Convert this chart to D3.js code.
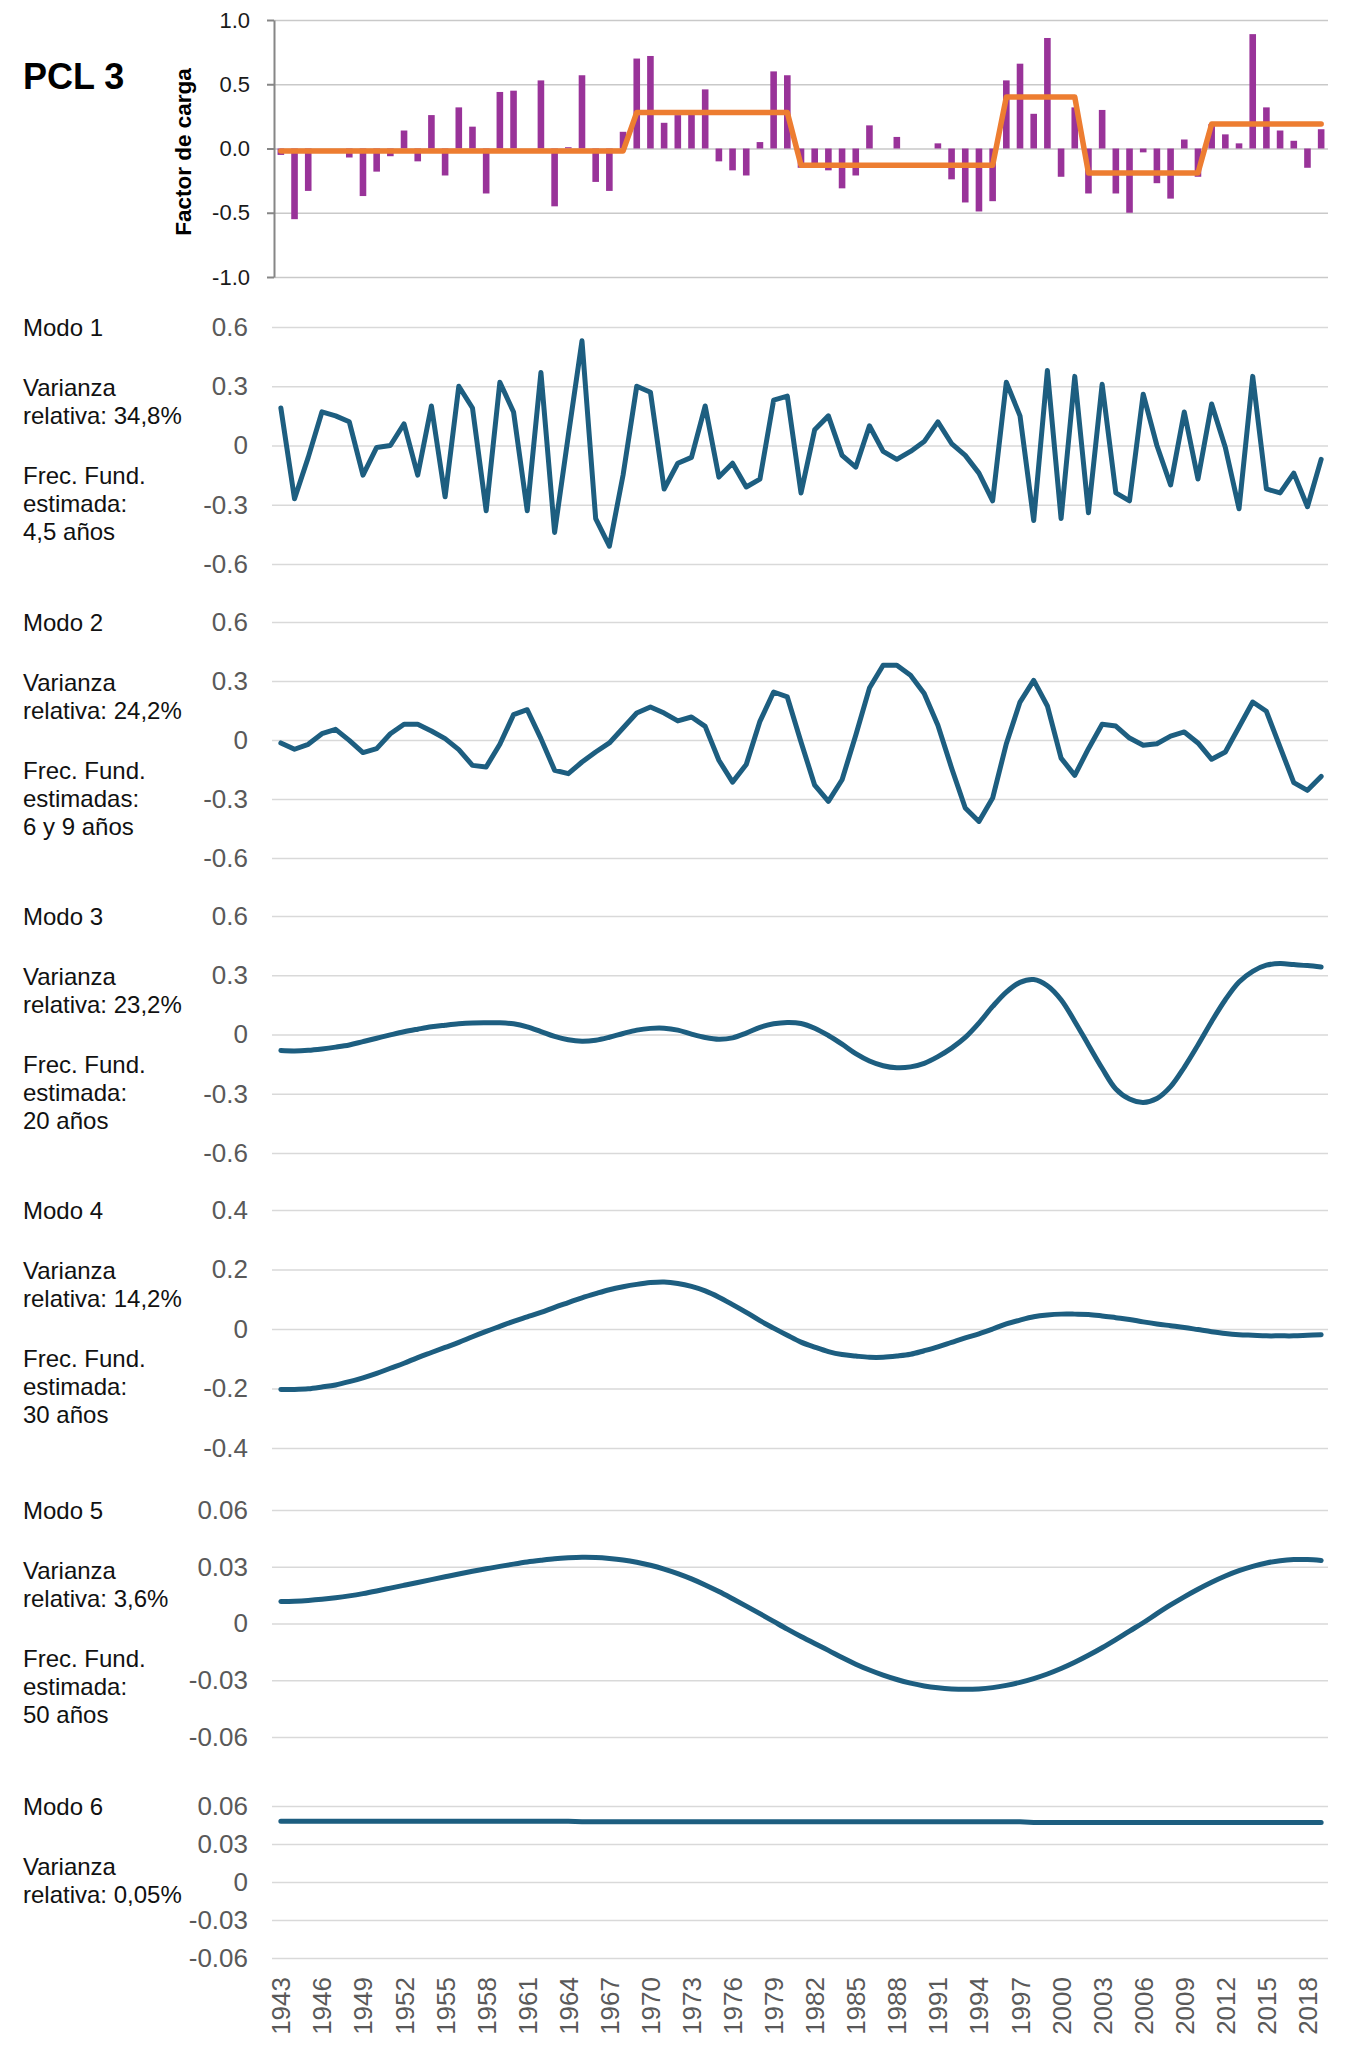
<!DOCTYPE html>
<html>
<head>
<meta charset="utf-8">
<script src="https://cdn.jsdelivr.net/npm/d3@7"></script>
<style>
  body { margin: 0; background: #ffffff; }
  text { font-family: "Liberation Sans", Arial, sans-serif; }
</style>
</head>
<body>
<svg id="chart" width="1361" height="2069"></svg>
<script>
// Years on the x axis (1943 - 2019)
var years = d3.range(1943, 2020);

// PCL 3 loading factor per year (purple bars)
var barValues = [
  -0.05, -0.55, -0.33, 0.00, 0.00, -0.07, -0.37, -0.18, -0.06, 0.14,
  -0.10, 0.26, -0.21, 0.32, 0.17, -0.35, 0.44, 0.45, 0.00, 0.53,
  -0.45, 0.01, 0.57, -0.26, -0.33, 0.13, 0.70, 0.72, 0.20, 0.26,
  0.28, 0.46, -0.10, -0.17, -0.21, 0.05, 0.60, 0.57, -0.15, -0.13,
  -0.17, -0.31, -0.21, 0.18, 0.00, 0.09, 0.00, 0.00, 0.04, -0.24,
  -0.42, -0.49, -0.41, 0.53, 0.66, 0.27, 0.86, -0.22, 0.32, -0.35,
  0.30, -0.35, -0.50, -0.03, -0.27, -0.39, 0.07, -0.22, 0.19, 0.11,
  0.04, 0.89, 0.32, 0.14, 0.06, -0.15, 0.15
];

// Regime means (orange line)
var stepValues = [
  -0.02, -0.02, -0.02, -0.02, -0.02, -0.02, -0.02, -0.02, -0.02, -0.02,
  -0.02, -0.02, -0.02, -0.02, -0.02, -0.02, -0.02, -0.02, -0.02, -0.02,
  -0.02, -0.02, -0.02, -0.02, -0.02, -0.02, 0.28, 0.28, 0.28, 0.28,
  0.28, 0.28, 0.28, 0.28, 0.28, 0.28, 0.28, 0.28, -0.13, -0.13,
  -0.13, -0.13, -0.13, -0.13, -0.13, -0.13, -0.13, -0.13, -0.13, -0.13,
  -0.13, -0.13, -0.13, 0.40, 0.40, 0.40, 0.40, 0.40, 0.40, -0.19,
  -0.19, -0.19, -0.19, -0.19, -0.19, -0.19, -0.19, -0.19, 0.19, 0.19,
  0.19, 0.19, 0.19, 0.19, 0.19, 0.19, 0.19
];

// Decomposition modes
var mode1 = [
  0.19, -0.27, -0.06, 0.17, 0.15, 0.12, -0.15, -0.01, 0.00, 0.11,
  -0.15, 0.20, -0.26, 0.30, 0.19, -0.33, 0.32, 0.17, -0.33, 0.37,
  -0.44, 0.05, 0.53, -0.37, -0.51, -0.15, 0.30, 0.27, -0.22, -0.09,
  -0.06, 0.20, -0.16, -0.09, -0.21, -0.17, 0.23, 0.25, -0.24, 0.08,
  0.15, -0.05, -0.11, 0.10, -0.03, -0.07, -0.03, 0.02, 0.12, 0.01,
  -0.05, -0.14, -0.28, 0.32, 0.15, -0.38, 0.38, -0.37, 0.35, -0.34,
  0.31, -0.24, -0.28, 0.26, 0.00, -0.20, 0.17, -0.17, 0.21, -0.01,
  -0.32, 0.35, -0.22, -0.24, -0.14, -0.31, -0.07
];
var mode2 = [
  -0.015, -0.047, -0.022, 0.032, 0.054, -0.002, -0.064, -0.044, 0.032, 0.080,
  0.080, 0.046, 0.007, -0.049, -0.129, -0.137, -0.022, 0.129, 0.154, 0.007,
  -0.154, -0.171, -0.112, -0.061, -0.015, 0.061, 0.137, 0.168, 0.137, 0.097,
  0.117, 0.069, -0.103, -0.214, -0.125, 0.095, 0.244, 0.219, -0.010, -0.230,
  -0.312, -0.202, 0.024, 0.264, 0.380, 0.380, 0.329, 0.236, 0.075, -0.142,
  -0.346, -0.414, -0.295, -0.019, 0.193, 0.303, 0.173, -0.092, -0.180, -0.044,
  0.080, 0.071, 0.010, -0.027, -0.019, 0.020, 0.041, -0.015, -0.098, -0.061,
  0.066, 0.193, 0.146, -0.036, -0.217, -0.256, -0.185
];
var mode3 = [
  -0.081, -0.083, -0.080, -0.073, -0.064, -0.053, -0.036, -0.019, -0.002, 0.014,
  0.027, 0.039, 0.047, 0.054, 0.058, 0.059, 0.059, 0.054, 0.039, 0.015,
  -0.010, -0.027, -0.034, -0.029, -0.014, 0.005, 0.022, 0.031, 0.032, 0.022,
  0.002, -0.015, -0.024, -0.017, 0.007, 0.036, 0.054, 0.061, 0.056, 0.032,
  -0.005, -0.049, -0.097, -0.134, -0.158, -0.168, -0.164, -0.146, -0.112, -0.069,
  -0.015, 0.058, 0.142, 0.215, 0.264, 0.278, 0.247, 0.176, 0.066, -0.053,
  -0.171, -0.276, -0.327, -0.344, -0.324, -0.264, -0.166, -0.053, 0.066, 0.176,
  0.266, 0.320, 0.351, 0.359, 0.354, 0.349, 0.342
];
var mode4 = [
  -0.203, -0.203, -0.201, -0.195, -0.188, -0.177, -0.164, -0.149, -0.132, -0.115,
  -0.096, -0.079, -0.062, -0.045, -0.026, -0.008, 0.009, 0.026, 0.041, 0.056,
  0.073, 0.089, 0.105, 0.119, 0.132, 0.142, 0.150, 0.156, 0.158, 0.153,
  0.143, 0.128, 0.107, 0.082, 0.056, 0.028, 0.003, -0.021, -0.044, -0.061,
  -0.076, -0.086, -0.091, -0.095, -0.095, -0.091, -0.085, -0.073, -0.060, -0.045,
  -0.030, -0.016, 0.000, 0.017, 0.030, 0.041, 0.047, 0.050, 0.050, 0.049,
  0.044, 0.038, 0.032, 0.024, 0.017, 0.011, 0.005, -0.002, -0.009, -0.015,
  -0.019, -0.021, -0.023, -0.023, -0.023, -0.021, -0.019
];
var mode5 = [
  0.0116, 0.0118, 0.0122, 0.0128, 0.0136, 0.0146, 0.0158, 0.0172, 0.0187, 0.0202,
  0.0217, 0.0232, 0.0247, 0.0262, 0.0276, 0.0289, 0.0302, 0.0314, 0.0325, 0.0334,
  0.0342, 0.0347, 0.0350, 0.0349, 0.0344, 0.0336, 0.0324, 0.0308, 0.0288, 0.0264,
  0.0236, 0.0204, 0.0169, 0.0131, 0.0092, 0.0052, 0.0011, -0.0030, -0.0069, -0.0106,
  -0.0142, -0.0180, -0.0215, -0.0246, -0.0273, -0.0296, -0.0315, -0.0330, -0.0340, -0.0346,
  -0.0348, -0.0346, -0.0339, -0.0327, -0.0311, -0.0291, -0.0267, -0.0238, -0.0205, -0.0168,
  -0.0128, -0.0085, -0.0040, 0.0004, 0.0052, 0.0098, 0.0141, 0.0181, 0.0218, 0.0251,
  0.0279, 0.0302, 0.0320, 0.0332, 0.0338, 0.0338, 0.0333
];
var mode6 = [
  0.048, 0.048, 0.048, 0.048, 0.048, 0.048, 0.048, 0.048, 0.048, 0.048,
  0.048, 0.048, 0.048, 0.048, 0.048, 0.048, 0.048, 0.048, 0.048, 0.048,
  0.048, 0.048, 0.0475, 0.0475, 0.0475, 0.0475, 0.0475, 0.0475, 0.0475, 0.0475,
  0.0475, 0.0475, 0.0475, 0.0475, 0.0475, 0.0475, 0.0475, 0.0475, 0.0475, 0.0475,
  0.0475, 0.0475, 0.0475, 0.0475, 0.0475, 0.0475, 0.0475, 0.0475, 0.0475, 0.0475,
  0.0475, 0.0475, 0.0475, 0.0475, 0.0475, 0.047, 0.047, 0.047, 0.047, 0.047,
  0.047, 0.047, 0.047, 0.047, 0.047, 0.047, 0.047, 0.047, 0.047, 0.047,
  0.047, 0.047, 0.047, 0.047, 0.047, 0.047, 0.047
];

// Tick values
var topTicks = [1.0, 0.5, 0.0, -0.5, -1.0];
var ticksWide = [0.6, 0.3, 0, -0.3, -0.6];
var ticksMid = [0.4, 0.2, 0, -0.2, -0.4];
var ticksSmall = [0.06, 0.03, 0, -0.03, -0.06];

// Side notes for each mode
var modeNames = ["Modo 1", "Modo 2", "Modo 3", "Modo 4", "Modo 5", "Modo 6"];
var modeVariance = ["relativa: 34,8%", "relativa: 24,2%", "relativa: 23,2%",
  "relativa: 14,2%", "relativa: 3,6%", "relativa: 0,05%"];
var modeFreqWord = ["estimada:", "estimadas:", "estimada:", "estimada:", "estimada:", null];
var modeFreq = ["4,5 años", "6 y 9 años", "20 años", "30 años", "50 años", null];

var svg = d3.select("#chart");
var barColor = "#993399";
var stepColor = "#ED7D31";
var lineColor = "#1D5E80";
var xLeft = 274, xRight = 1328;

// Shared x position for every panel
var x = d3.scalePoint().domain(years).range([xLeft, xRight]).padding(0.5);

// ---------- Top panel: PCL 3 ----------
svg.append("text")
  .attr("x", 23).attr("y", 89)
  .style("font-size", "36px").style("font-weight", "bold")
  .text("PCL 3");

var yTop = d3.scaleLinear().domain([-1, 1]).range([277, 20]);

// gridlines
svg.append("g")
  .attr("transform", "translate(" + xLeft + ",0)")
  .call(d3.axisLeft(yTop).tickValues(topTicks).tickSize(-(xRight - xLeft)).tickFormat(""))
  .call(g => g.select(".domain").remove())
  .call(g => g.selectAll("line").attr("stroke", "#C9C9C9").attr("stroke-width", 1.5));

// axis line with tick marks
svg.append("g")
  .attr("transform", "translate(" + xLeft + ",0)")
  .call(d3.axisLeft(yTop).tickValues(topTicks).tickSize(7).tickSizeOuter(0).tickPadding(17)
    .tickFormat(d => d.toFixed(1)))
  .call(g => g.select(".domain").attr("stroke", "#868686").attr("stroke-width", 2))
  .call(g => g.selectAll("line").attr("stroke", "#868686").attr("stroke-width", 2))
  .call(g => g.selectAll("text").attr("fill", "#1a1a1a")
    .style("font-size", "22px").style("font-family", "'Liberation Sans', Arial, sans-serif"));

svg.append("text")
  .attr("transform", "translate(191,152) rotate(-90)")
  .attr("text-anchor", "middle")
  .style("font-size", "22.5px").style("font-weight", "bold")
  .text("Factor de carga");

// bars
svg.append("g").selectAll("rect")
  .data(barValues)
  .join("rect")
  .attr("x", (d, i) => x(years[i]) - 3.3)
  .attr("width", 6.6)
  .attr("y", d => yTop(Math.max(0, d)))
  .attr("height", d => Math.abs(yTop(d) - yTop(0)))
  .attr("fill", barColor);

// regime line
svg.append("path")
  .datum(stepValues)
  .attr("fill", "none")
  .attr("stroke", stepColor)
  .attr("stroke-width", 5.5)
  .attr("stroke-linejoin", "round")
  .attr("stroke-linecap", "round")
  .attr("d", d3.line().x((d, i) => x(years[i])).y(d => yTop(d)));

// ---------- Mode panels ----------
var panels = [
  { values: mode1, ticks: ticksWide, top: 327, bottom: 564, curve: d3.curveLinear },
  { values: mode2, ticks: ticksWide, top: 622, bottom: 858, curve: d3.curveLinear },
  { values: mode3, ticks: ticksWide, top: 916, bottom: 1153, curve: d3.curveCatmullRom },
  { values: mode4, ticks: ticksMid, top: 1210, bottom: 1448, curve: d3.curveCatmullRom },
  { values: mode5, ticks: ticksSmall, top: 1510, bottom: 1737, curve: d3.curveCatmullRom },
  { values: mode6, ticks: ticksSmall, top: 1806, bottom: 1958, curve: d3.curveLinear }
];

panels.forEach((p, k) => {
  var maxTick = p.ticks[0];
  var y = d3.scaleLinear().domain([-maxTick, maxTick]).range([p.bottom, p.top]);

  // gridlines and tick labels
  svg.append("g")
    .attr("transform", "translate(272,0)")
    .call(d3.axisLeft(y).tickValues(p.ticks).tickSize(-(xRight - 272)).tickPadding(24)
      .tickFormat(d => String(d)))
    .call(g => g.select(".domain").remove())
    .call(g => g.selectAll("line").attr("stroke", "#D9D9D9").attr("stroke-width", 1.5))
    .call(g => g.selectAll("text").attr("fill", "#595959")
      .style("font-size", "26px").style("font-family", "'Liberation Sans', Arial, sans-serif"));

  // the mode curve
  svg.append("path")
    .datum(p.values)
    .attr("fill", "none")
    .attr("stroke", lineColor)
    .attr("stroke-width", 5)
    .attr("stroke-linejoin", "round")
    .attr("stroke-linecap", "round")
    .attr("d", d3.line().curve(p.curve).x((d, i) => x(years[i])).y(d => y(d)));

  // notes on the left
  var notes = [
    [modeNames[k], 9],
    ["Varianza", 69],
    [modeVariance[k], 97]
  ];
  if (modeFreq[k]) {
    notes.push(["Frec. Fund.", 157], [modeFreqWord[k], 185], [modeFreq[k], 213]);
  }
  svg.append("g").selectAll("text")
    .data(notes)
    .join("text")
    .attr("x", 23)
    .attr("y", d => p.top + d[1])
    .attr("fill", "#111")
    .style("font-size", "24px")
    .text(d => d[0]);
});

// ---------- Year labels ----------
var yearTicks = years.filter((d, i) => i % 3 === 0);
svg.append("g").selectAll("text")
  .data(yearTicks)
  .join("text")
  .attr("transform", d => "translate(" + (x(d) + 9.5) + ",1977) rotate(-90)")
  .attr("text-anchor", "end")
  .attr("fill", "#595959")
  .style("font-size", "26px")
  .text(d => d);
</script>
</body>
</html>
